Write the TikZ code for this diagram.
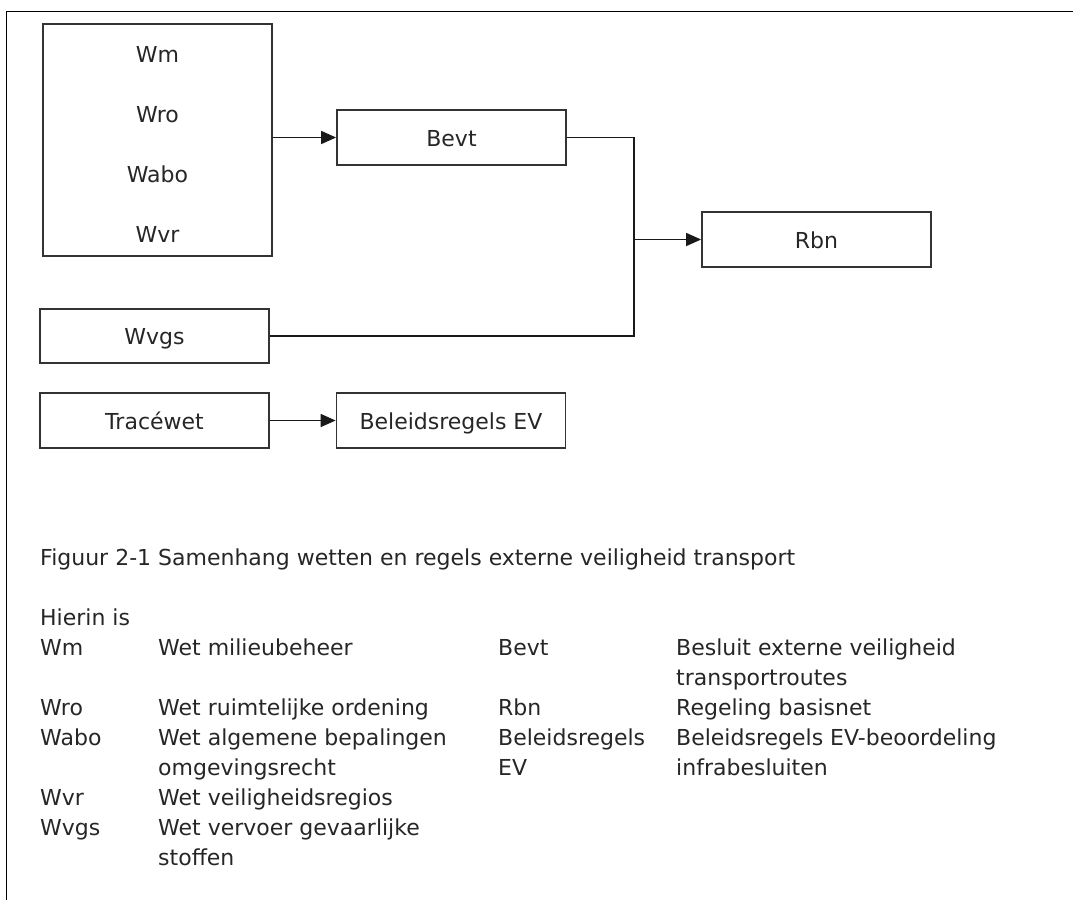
\documentclass[tikz,border=0pt]{standalone}
\usepackage{fontspec}
\setmainfont{DejaVu Sans}
\usetikzlibrary{arrows.meta}
\tikzset{
	wetbox/.style={draw=black!80, line width=1.8pt, minimum width=229pt, minimum height=55pt, inner sep=0pt, text height=17.5pt, text depth=0pt},
	lijn/.style={line width=1.7pt, color=black!90},
	pijl/.style={lijn, -{Triangle[length=15pt,width=13pt]}},
	uitleg/.style={anchor=base west, inner sep=0pt}
}

\begin{document}
\begin{tikzpicture}[x=1pt, y=-1pt, font=\fontsize{22}{30}\selectfont, text=black!85]
			%%%%% START %%%%%
			
			\useasboundingbox (0, 0) rectangle (1073, 900);
			\draw[line width=1pt, color=black] (1073, 11) -- (6, 11) -- (6, 900);
			
			\node[wetbox, minimum height=232pt] (wetten) at (157.5, 140) {};
			\foreach \naam/\y in {Wm/62, Wro/122, Wabo/182, Wvr/242}
				\node[anchor=base] (\naam) at (157.5, \y) {\naam};
			
			\node[wetbox] (bevt) at (451.5, 137.5) {Bevt};
			\node[wetbox] (rbn) at (816.5, 239.5) {Rbn};
			\node[wetbox, minimum height=54pt] (wvgs) at (154.5, 336) {Wvgs};
			\node[wetbox] (trace) at (154.5, 420.5) {Tracéwet};
			\node[wetbox] (beleid) at (451, 420.5) {Beleidsregels EV};
			
			\coordinate (knoop) at (634, 239.5);
			
			\draw[pijl] (wetten.east |- bevt.west) -- (bevt.west);
			\draw[lijn] (bevt.east) -| (knoop) |- (wvgs.east);
			\draw[pijl] (knoop) -- (rbn.west);
			\draw[pijl] (trace.east) -- (beleid.west);
			
			\node[uitleg] (bijschrift) at (40, 565) {Figuur 2-1 Samenhang wetten en regels externe veiligheid transport};
			\node[uitleg] (hierin) at (40, 625) {Hierin is};
			
			\foreach \x/\y/\tekst [count=\i] in {
				40/655/Wm, 158/655/Wet milieubeheer, 498/655/Bevt, 676/655/Besluit externe veiligheid,
				676/685/transportroutes,
				40/715/Wro, 158/715/Wet ruimtelijke ordening, 498/715/Rbn, 676/715/Regeling basisnet,
				40/745/Wabo, 158/745/Wet algemene bepalingen, 498/745/Beleidsregels, 676/745/Beleidsregels EV-beoordeling,
				158/775/omgevingsrecht, 498/775/EV, 676/775/infrabesluiten,
				40/805/Wvr, 158/805/Wet veiligheidsregios,
				40/835/Wvgs, 158/835/Wet vervoer gevaarlijke,
				158/865/stoffen}
				\node[uitleg] (regel\i) at (\x, \y) {\tekst};
			
			%%%%% END %%%%%
\end{tikzpicture}
\end{document}
